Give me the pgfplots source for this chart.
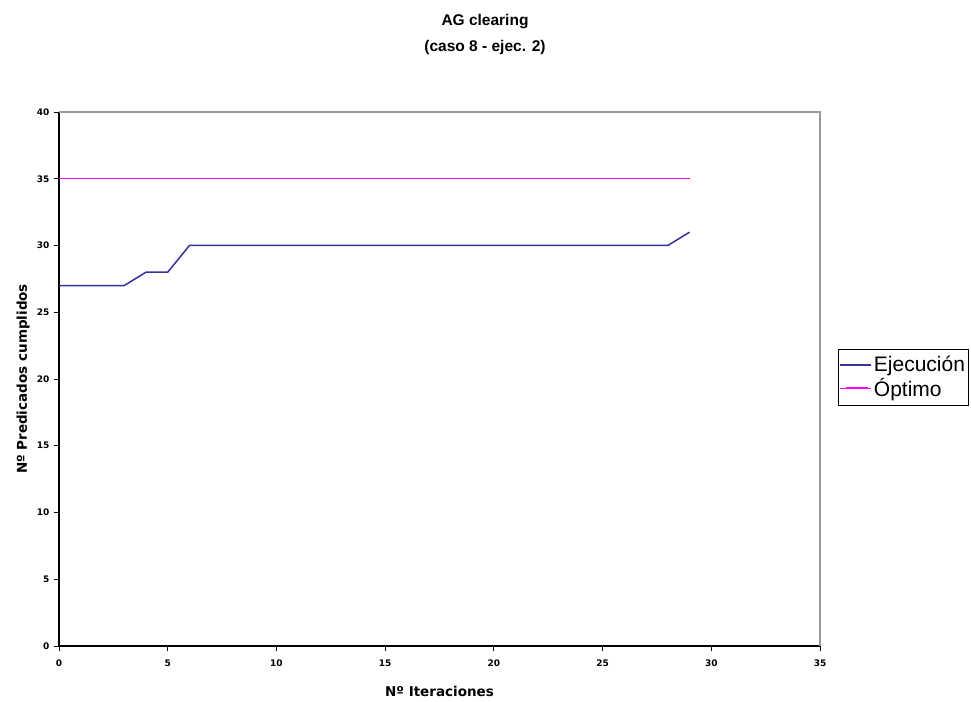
\documentclass[border=0pt]{standalone}
\usepackage{pgfplots}
\pgfplotsset{compat=1.18}
\usepackage{fontspec}
\setmainfont{Liberation Sans}
\newfontfamily\dejavu{DejaVu Sans}
\definecolor{ejec}{RGB}{51,51,153}
\definecolor{opt}{RGB}{255,0,255}
\begin{document}
\begin{tikzpicture}[x=1pt,y=1pt]
\useasboundingbox (0,0) rectangle (971,701);
\fill[white] (0,0) rectangle (971,701);
\node[align=center,font=\bfseries\fontsize{15.5}{26}\selectfont] at (485,666) {AG clearing\\(caso 8 - ejec. 2)};
\begin{axis}[
  at={(59pt,55pt)}, anchor=south west,
  scale only axis, width=761pt, height=534pt,
  xmin=0, xmax=35, ymin=0, ymax=40,
  xtick={0,5,...,35}, ytick={0,5,...,40},
  axis x line=bottom, axis y line=left,
  axis line style={black, line width=1.2pt, -},
  tick align=outside, tick style={black, line width=0.8pt},
  major tick length=5pt,
  /pgf/number format/assume math mode=true,
  ticklabel style={font=\dejavu\bfseries\fontsize{9}{10}\selectfont},
  xticklabel style={yshift=-5pt},
  yticklabel style={xshift=-1pt},
  xlabel={Nº Iteraciones}, ylabel={Nº Predicados cumplidos},
  label style={font=\dejavu\bfseries\fontsize{13.5}{15}\selectfont},
  xlabel style={at={(0.5,0)}, anchor=center, yshift=-45pt},
  ylabel style={at={(-0.047,0.5)}, anchor=center},
  legend style={at={(1.0237,0.5562)}, anchor=north west, draw=black, line width=0.8pt,
    font=\fontsize{21}{25}\selectfont, inner xsep=1pt, inner ysep=5pt, row sep=1pt,
    legend cell align=left},
  legend image code/.code={\path (0pt,0pt) -- (31pt,0pt);\draw[#1, line width=1.6pt] (6pt,0.5pt) -- (28pt,0.5pt);},
  after end axis/.code={
    \draw[gray!80, line width=1.2pt] (rel axis cs:0,1) -- (rel axis cs:1,1) -- (rel axis cs:1,0);
  },
  clip=false,
]
\addplot[color=ejec, line width=1.5pt] coordinates {
(0,27) (1,27) (2,27) (3,27) (4,28) (5,28) (6,30) (7,30) (8,30) (9,30) (10,30)
(11,30) (12,30) (13,30) (14,30) (15,30) (16,30) (17,30) (18,30) (19,30) (20,30)
(21,30) (22,30) (23,30) (24,30) (25,30) (26,30) (27,30) (28,30) (29,31)};
\addlegendentry{Ejecución}
\addplot[color=opt, line width=1.3pt] coordinates {
(0,35) (1,35) (2,35) (3,35) (4,35) (5,35) (6,35) (7,35) (8,35) (9,35) (10,35)
(11,35) (12,35) (13,35) (14,35) (15,35) (16,35) (17,35) (18,35) (19,35) (20,35)
(21,35) (22,35) (23,35) (24,35) (25,35) (26,35) (27,35) (28,35) (29,35)};
\addlegendentry{Óptimo}
\end{axis}
\end{tikzpicture}
\end{document}
